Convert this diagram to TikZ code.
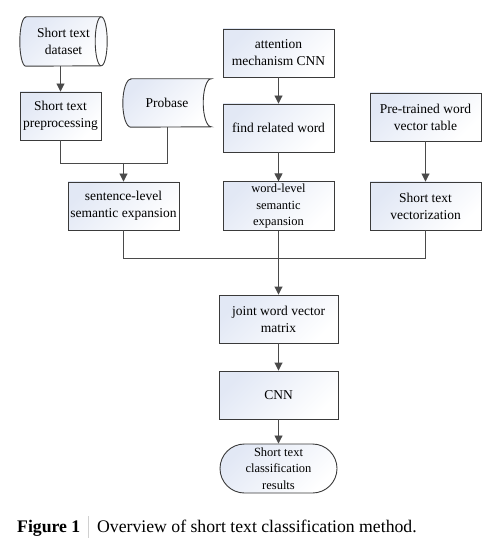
\documentclass[tikz,border=0pt]{standalone}
\usepackage{fontspec}
\setmainfont{Liberation Serif}
\usepackage{tikz}
\usetikzlibrary{arrows.meta,positioning,calc,shapes.misc}
\definecolor{edgeGray}{HTML}{3A3A3A}
\definecolor{lineGray}{HTML}{4A4A4A}
\definecolor{boxShade}{HTML}{E2E8F5}
\definecolor{barGray}{HTML}{D0D0D0}
\tikzset{
  shadeFill/.style={top color=boxShade, bottom color=white, shading angle=45},
  procbox/.style={draw=edgeGray, line width=0.9pt, shadeFill, align=center,
    minimum width=111pt, minimum height=48pt, inner sep=2pt,
    font=\fontsize{13.5}{17}\selectfont},
  narrowbox/.style={procbox, minimum width=81pt},
  widebox/.style={procbox, minimum width=119pt},
  tightText/.style={font=\fontsize{12.5}{16.5}\selectfont},
  termbox/.style={rounded rectangle, draw=edgeGray, line width=0.9pt, shadeFill,
    align=center, minimum width=119pt, minimum height=49pt, inner sep=1pt,
    font=\fontsize{12.5}{16.5}\selectfont},
  storeText/.style={align=center, inner sep=0pt, font=\fontsize{13.5}{17}\selectfont},
  storeLine/.style={draw=edgeGray, line width=0.9pt},
  linkLine/.style={draw=lineGray, line width=0.9pt},
  flowArc/.style={linkLine, -{Triangle[length=8pt, width=8pt]}},
  capText/.style={anchor=base west, inner sep=0pt, font=\fontsize{17.7}{20}\selectfont},
}
\begin{document}
\begin{tikzpicture}[x=1pt, y=-1pt]
  \useasboundingbox (0,0) rectangle (497,545);

  % data sources
  \node[storeText, minimum width=87pt, minimum height=49pt] (data) at (63.5,41.5)
    {Short text\\dataset};
  \path[storeLine, shadeFill]
    ($(data.north west)+(6,0)$) -- ($(data.north east)+(-6,0)$)
    arc[start angle=90, end angle=-90, x radius=6pt, y radius=24.5pt]
    -- ($(data.south west)+(6,0)$)
    arc[start angle=270, end angle=90, x radius=6pt, y radius=24.5pt] -- cycle;
  \draw[storeLine] ($(data.north east)+(-6,0)$)
    arc[start angle=90, end angle=270, x radius=6pt, y radius=24.5pt];
  \node[storeText] at (data) {Short text\\dataset};

  \node[storeText, minimum width=88pt, minimum height=48pt] (probase) at (167,103) {Probase};
  \path[storeLine, shadeFill]
    ($(probase.north west)+(8,0)$) -- (probase.north east)
    arc[start angle=90, end angle=270, x radius=8pt, y radius=24pt]
    -- ($(probase.south west)+(8,0)$)
    arc[start angle=270, end angle=90, x radius=8pt, y radius=24pt] -- cycle;
  \node[storeText] at (probase) {Probase};

  % processing steps
  \node[narrowbox] (prep) at (60.5,116) {Short text\\preprocessing};
  \node[procbox] (sent) at (123.5,206) {sentence-level\\semantic expansion};
  \node[procbox] (attn) at (278.5,53) {attention\\mechanism CNN};
  \node[procbox] (find) at (278.5,128) {find related word};
  \node[procbox, tightText] (word) at (278.5,206) {word-level\\semantic\\expansion};
  \node[procbox] (pretab) at (425.5,117) {Pre-trained word\\vector table};
  \node[procbox] (vec) at (425.5,206) {Short text\\vectorization};
  \node[widebox] (joint) at (278.5,319) {joint word vector\\matrix};
  \node[widebox] (cnn) at (278.5,395) {CNN};
  \node[termbox] (res) at (278.5,468.5) {Short text\\classification\\results};

  \coordinate (mergeA) at (123.5,163);
  \coordinate (mergeB) at (278.5,258);

  % connectors
  \draw[flowArc] (data.south -| prep.north) -- (prep.north);
  \draw[linkLine] (prep.south) |- (mergeA);
  \draw[linkLine] (probase.south) |- (mergeA);
  \draw[flowArc] (mergeA) -- (sent.north);
  \draw[flowArc] (attn) -- (find);
  \draw[flowArc] (find) -- (word);
  \draw[flowArc] (pretab) -- (vec);
  \draw[linkLine] (sent.south) |- (mergeB);
  \draw[linkLine] (vec.south) |- (mergeB);
  \draw[flowArc] (word) -- (joint);
  \draw[flowArc] (joint) -- (cnn);
  \draw[flowArc] (cnn) -- (res);

  % caption
  \node[capText] (figlabel) at (17,532) {\bfseries Figure 1};
  \draw[barGray, line width=0.8pt] (88,516) -- (88,538);
  \node[capText] (figtext) at (97,532) {Overview of short text classification method.};
\end{tikzpicture}
\end{document}
